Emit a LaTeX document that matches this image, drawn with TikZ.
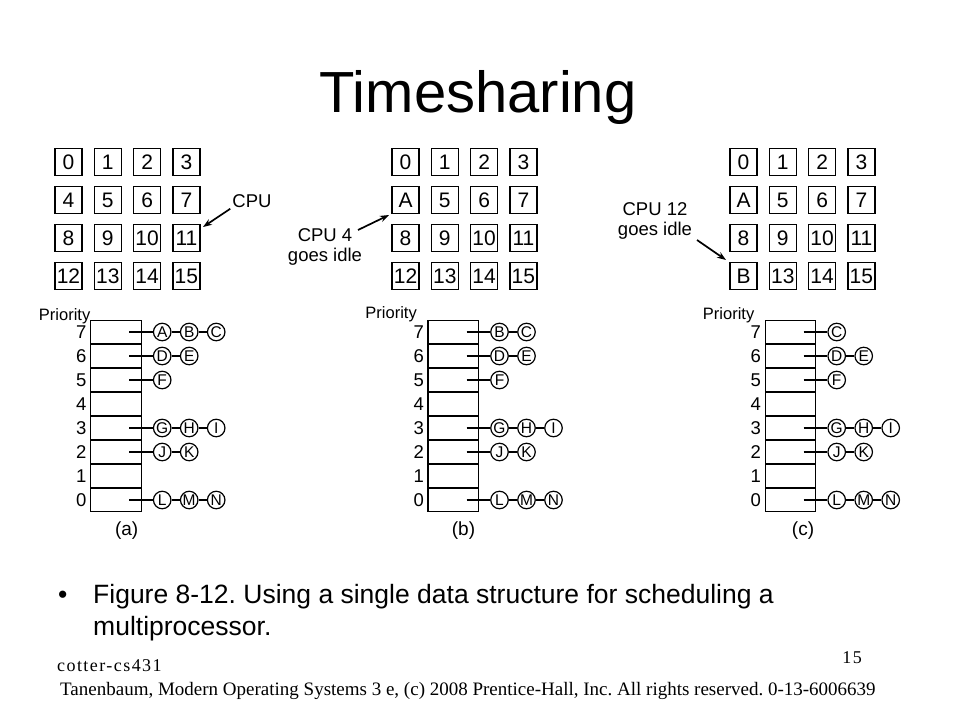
\documentclass[tikz,border=0pt]{standalone}
\usepackage{fontspec}
\setmainfont{Liberation Sans}
\newfontfamily\seriffont{Liberation Serif}
\newfontfamily\seriffontwide{Liberation Serif}[LetterSpace=8]
\usetikzlibrary{arrows.meta}
\frenchspacing

\newcommand\cpugrid[3]{%
  \foreach \lab [count=\i from 0] in {#3} {
    \pgfmathtruncatemacro\rr{floor(\i/4)}
    \pgfmathtruncatemacro\cc{mod(\i,4)}
    \node[cpubox] (#1-\i) at ({#2+13.5+39.3*\cc},{162+38*\rr}) {\lab};
  }}
\newcommand\prioarray[2]{%
  \foreach \k in {0,...,7} {
    \node[cell] (#1-c\k) at ({#2+25.25},{332+24*(7-\k)}) {};
    \node[prionum, anchor=east] (#1-n\k) at ({#2-4},{332+24*(7-\k)}) {\k};
  }}
\newcommand\procqueue[4]{% panel, left x, row, letters
  \coordinate (#1-#3-0) at ({#2+38.5},{332+24*(7-#3)});
  \foreach \L [count=\j from 1] in {#4} {
    \pgfmathtruncatemacro\jj{\j-1}
    \node[proc] (#1-#3-\j) at ({#2+50.5+21+27*\jj},{332+24*(7-#3)}) {\L};
    \draw[link] (#1-#3-\jj) -- (#1-#3-\j);
  }}

\begin{document}
\begin{tikzpicture}[x=1pt,y=-1pt,
  cpubox/.style={draw, line width=1.4pt, minimum size=27pt, inner sep=0pt, font=\fontsize{21}{21}\selectfont},
  cell/.style={draw, line width=1.4pt, minimum width=50.5pt, minimum height=22.6pt, inner sep=0pt},
  proc/.style={draw, circle, line width=1.2pt, minimum size=17.5pt, inner sep=0pt, font=\fontsize{15.5}{15.5}\selectfont},
  prionum/.style={font=\fontsize{18.5}{18.5}\selectfont, inner sep=0pt},
  priolabel/.style={font=\fontsize{16.5}{16.5}\selectfont, inner sep=0pt},
  panellabel/.style={font=\fontsize{19}{19}\selectfont, inner sep=0pt},
  note/.style={font=\fontsize{18.5}{20}\selectfont, inner sep=0pt, align=center},
  link/.style={line width=1.4pt},
  arr/.style={line width=1.7pt, -{Stealth[length=9pt,width=6.5pt]}}]
\useasboundingbox[fill=white] (0,0) rectangle (960,720);

\node[anchor=base, inner sep=0pt] (title) at (478,112) {\fontsize{58}{60}\selectfont Timesharing};

% CPU grids
\cpugrid{a}{55}{0,1,2,3,4,5,6,7,8,9,10,11,12,13,14,15}
\cpugrid{b}{392}{0,1,2,3,A,5,6,7,8,9,10,11,12,13,14,15}
\cpugrid{c}{730}{0,1,2,3,A,5,6,7,8,9,10,11,B,13,14,15}

% CPU annotations
\node[note] (cpuA) at (252,201) {CPU};
\coordinate (cpuAtip) at (203,227);
\draw[arr] (cpuA.south west) ++(-2,1) coordinate (cpuAs) -- (cpuAtip);

\node[note] (cpuB) at (325,247) {CPU 4\\goes idle};
\coordinate (cpuBs) at (358,230);
\coordinate (cpuBtip) at (389,215);
\draw[arr] (cpuBs) -- (cpuBtip);

\node[note] (cpuC) at (655,221) {CPU 12\\goes idle};
\coordinate (cpuCs) at (697,240);
\coordinate (cpuCtip) at (726,260);
\draw[arr] (cpuCs) -- (cpuCtip);

% Priority arrays
\prioarray{pa}{90.7}
\prioarray{pb}{428.0}
\prioarray{pc}{765.2}

\node[priolabel, anchor=east] (prioA) at (90.5,316.5) {Priority};
\node[priolabel, anchor=east] (prioB) at (417,314) {Priority};
\node[priolabel, anchor=east] (prioC) at (754.5,315) {Priority};

% queues (a)
\procqueue{pa}{90.7}{7}{A,B,C}
\procqueue{pa}{90.7}{6}{D,E}
\procqueue{pa}{90.7}{5}{F}
\procqueue{pa}{90.7}{3}{G,H,I}
\procqueue{pa}{90.7}{2}{J,K}
\procqueue{pa}{90.7}{0}{L,M,N}
% queues (b)
\procqueue{pb}{428.0}{7}{B,C}
\procqueue{pb}{428.0}{6}{D,E}
\procqueue{pb}{428.0}{5}{F}
\procqueue{pb}{428.0}{3}{G,H,I}
\procqueue{pb}{428.0}{2}{J,K}
\procqueue{pb}{428.0}{0}{L,M,N}
% queues (c)
\procqueue{pc}{765.2}{7}{C}
\procqueue{pc}{765.2}{6}{D,E}
\procqueue{pc}{765.2}{5}{F}
\procqueue{pc}{765.2}{3}{G,H,I}
\procqueue{pc}{765.2}{2}{J,K}
\procqueue{pc}{765.2}{0}{L,M,N}

\node[panellabel] (labA) at (126.7,531) {(a)};
\node[panellabel] (labB) at (463.5,531) {(b)};
\node[panellabel] (labC) at (803,531) {(c)};

% bullet text
\node[anchor=base west, inner sep=0pt] (bullet) at (58,603) {\fontsize{26.5}{32}\selectfont •};
\node[anchor=base west, inner sep=0pt] (cap1) at (93,603) {\fontsize{26.5}{32}\selectfont Figure 8-12. Using a single data structure for scheduling a};
\node[anchor=base west, inner sep=0pt] (cap2) at (93,635) {\fontsize{26.5}{32}\selectfont multiprocessor.};

% footer
\node[anchor=base west, inner sep=0pt] (cotter) at (57,671) {\seriffontwide\fontsize{18}{18}\selectfont cotter-cs431};
\node[anchor=base east, inner sep=0pt] (pagenum) at (862,663) {\seriffontwide\fontsize{18}{18}\selectfont 15};
\node[anchor=base west, inner sep=0pt] (credit) at (60,695) {\seriffont\fontsize{19}{19}\selectfont Tanenbaum, Modern Operating Systems 3 e, (c) 2008 Prentice-Hall, Inc. All rights reserved. 0-13-6006639};
\end{tikzpicture}
\end{document}
